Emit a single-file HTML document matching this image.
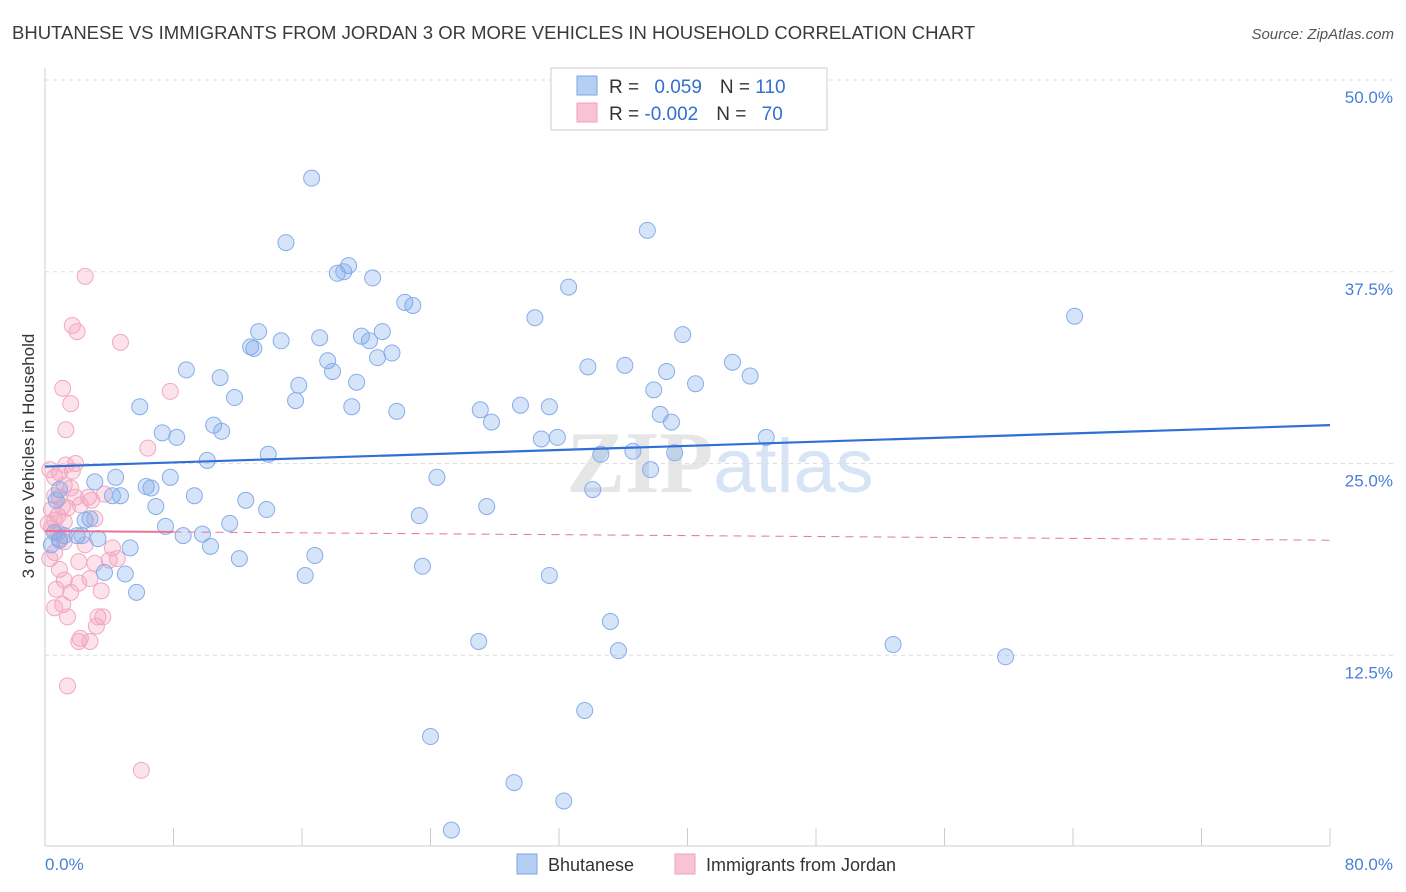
<!DOCTYPE html>
<html><head><meta charset="utf-8">
<style>
body{margin:0;background:#fff;font-family:"Liberation Sans",sans-serif;}
#wrap{position:relative;width:1406px;height:892px;overflow:hidden;}
</style></head>
<body>
<div id="wrap">
<svg id="svg" width="1406" height="892" xmlns="http://www.w3.org/2000/svg">
<text x="12" y="39" font-size="18.5" fill="#3a3a3a">BHUTANESE VS IMMIGRANTS FROM JORDAN 3 OR MORE VEHICLES IN HOUSEHOLD CORRELATION CHART</text>
<text x="1394" y="39" font-size="15" fill="#555" font-style="italic" text-anchor="end">Source: ZipAtlas.com</text>
<text x="720" y="492" font-size="88" fill="#e6e6e6" text-anchor="middle" font-weight="bold" font-family="Liberation Serif,serif">ZIP<tspan fill="#d6e4f5" font-weight="normal" font-family="Liberation Sans,sans-serif" font-size="76">atlas</tspan></text>
<g id="grid"></g>
<g id="axes"></g>
<g id="pts"></g>
<g id="trend"></g>
<text x="34" y="456" font-size="17" fill="#333" text-anchor="middle" transform="rotate(-90 34 456)">3 or more Vehicles in Household</text>
<text x="45" y="870" font-size="17" fill="#4a7fd6">0.0%</text>
<text x="1393" y="870" font-size="17" fill="#4a7fd6" text-anchor="end">80.0%</text>
<g>
<rect x="551" y="68" width="276" height="62" fill="#fff" stroke="#ccc"/>
<rect x="577" y="76" width="20" height="19" fill="#b5cff3" stroke="#7aa5e6"/>
<rect x="577" y="103" width="20" height="19" fill="#f8c3d3" stroke="#f0a0bb"/>
<text x="609" y="93" font-size="19" fill="#333">R = <tspan fill="#3070d0" dx="10">0.059</tspan><tspan fill="#333" dx="18">N = </tspan><tspan fill="#3070d0">110</tspan></text>
<text x="609" y="120" font-size="19" fill="#333">R = <tspan fill="#3070d0">-0.002</tspan><tspan fill="#333" dx="18">N = </tspan><tspan fill="#3070d0" dx="10">70</tspan></text>
</g>
<g>
<rect x="517" y="854" width="20" height="20" fill="#b5cff3" stroke="#7aa5e6"/>
<text x="548" y="871" font-size="18" fill="#333">Bhutanese</text>
<rect x="675" y="854" width="20" height="20" fill="#f8c3d3" stroke="#f0a0bb"/>
<text x="706" y="871" font-size="18" fill="#333">Immigrants from Jordan</text>
</g>
</svg>
</div>
<script>
const yTicks=[12.5,25,37.5,50];
const yTickLabels=["12.5%","25.0%","37.5%","50.0%"];
const xTicks=[0,8,16,24,32,40,48,56,64,72,80];
const blueX=[16.6,15.0,37.5,18.9,18.2,18.6,20.4,32.6,22.4,22.9,30.5,64.1,13.3,17.1,19.7,21.0,39.7,12.8,14.7,13.0,20.2,21.6,20.7,17.6,8.8,17.9,33.8,36.1,38.7,42.8,43.9,10.9,19.4,15.8,37.9,40.5,11.8,15.6,5.9,19.1,21.9,27.1,29.6,31.4,38.3,10.5,27.8,39.0,11.0,7.3,8.2,30.9,31.9,44.9,13.9,34.6,36.6,39.2,10.1,37.7,24.4,4.4,3.1,7.8,6.3,6.6,4.2,4.7,9.3,12.5,13.8,34.1,27.5,23.3,6.9,2.8,7.5,11.5,0.6,2.0,2.3,3.3,8.6,9.8,5.3,10.3,12.1,16.8,23.5,3.7,5.0,16.2,31.4,5.7,35.2,27.0,35.7,52.8,59.8,33.6,24.0,29.2,32.3,25.3,0.9,0.7,0.9,0.4,1.2,2.5];
const blueY=[43.6,39.4,40.2,37.9,37.4,37.5,37.1,36.5,35.5,35.3,34.5,34.6,33.6,33.2,33.3,33.6,33.4,32.6,33.0,32.5,33.0,32.2,31.9,31.7,31.1,31.0,31.3,31.4,31.0,31.6,30.7,30.6,30.3,30.1,29.8,30.2,29.3,29.1,28.7,28.7,28.4,28.5,28.8,28.7,28.2,27.5,27.7,27.7,27.1,27.0,26.7,26.6,26.7,26.7,25.6,25.6,25.8,25.7,25.2,24.6,24.1,24.1,23.8,24.1,23.5,23.4,22.9,22.9,22.9,22.6,22.0,23.3,22.2,21.6,22.2,21.4,20.9,21.1,20.5,20.3,20.3,20.1,20.3,20.4,19.5,19.6,18.8,19.0,18.3,17.9,17.8,17.7,17.7,16.6,14.7,13.4,12.8,13.2,12.4,8.9,7.2,4.2,3.0,1.1,23.3,22.6,20.0,19.7,20.3,21.3];
const pinkX=[2.5,1.7,2.0,4.7,1.1,7.8,1.6,1.3,6.4,1.9,0.9,1.7,0.6,1.2,1.6,0.6,0.9,1.9,2.7,2.9,3.7,1.1,0.4,1.4,0.6,1.2,3.1,0.2,0.4,0.8,0.9,1.2,4.2,0.6,0.3,4.0,2.1,3.1,4.5,0.9,1.2,2.8,2.1,0.7,1.6,3.5,1.1,0.6,1.4,3.3,3.6,3.2,2.2,2.1,2.8,1.4,6.0,0.3,1.3,2.2,0.8,2.5];
const pinkY=[37.2,34.0,33.6,32.9,29.9,29.7,28.9,27.2,26.0,25.0,24.4,24.5,24.1,23.6,23.4,22.9,22.8,22.8,22.8,22.6,23.0,22.2,22.0,22.1,21.3,21.2,21.4,21.1,20.8,20.5,20.1,19.9,19.5,19.2,18.8,18.7,18.6,18.5,18.8,18.1,17.4,17.5,17.2,16.8,16.6,16.7,15.8,15.6,15.0,15.0,15.0,14.4,13.6,13.4,13.4,10.5,5.0,24.6,24.9,22.3,21.6,19.7];
const blueTrend=[24.8,27.5];
const pinkTrend=[20.6,20.0];
const X0=45,X1=1330,Y0=847,Y50=80;
const sx=v=>X0+(X1-X0)*v/80;
const sy=v=>Y0-(Y0-Y50)*v/50;
const NS="http://www.w3.org/2000/svg";
function mk(tag,attrs,parent){const e=document.createElementNS(NS,tag);for(const k in attrs)e.setAttribute(k,attrs[k]);document.getElementById(parent).appendChild(e);return e;}
yTicks.forEach((t,i)=>{
 const l=mk('line',{x1:X0,x2:1393,y1:sy(t),y2:sy(t),stroke:'#ddd','stroke-dasharray':'4,4'},'grid');
 
 
 const tx=mk('text',{x:1393,y:sy(t)+23,'font-size':17,fill:'#4a7fd6','text-anchor':'end'},'grid');
 tx.textContent=yTickLabels[i];
 
 
});
const ax=mk('line',{x1:X0,x2:X0,y1:68,y2:846,stroke:'#ccc'},'axes');


const bx=mk('line',{x1:X0,x2:X1,y1:846,y2:846,stroke:'#ccc'},'axes');


xTicks.forEach(t=>{
 const l=mk('line',{x1:sx(t),x2:sx(t),y1:828,y2:846,stroke:'#ccc'},'axes');
 
 
});
pinkX.forEach((x,i)=>{
 const c=mk('circle',{cx:sx(x),cy:sy(pinkY[i]),r:8,fill:'rgba(244,160,190,0.3)',stroke:'#f2a8c0','stroke-width':1},'pts');
 
 
});
blueX.forEach((x,i)=>{
 const c=mk('circle',{cx:sx(x),cy:sy(blueY[i]),r:8,fill:'rgba(120,165,235,0.3)',stroke:'#86adea','stroke-width':1},'pts');
 
 
});
const bt=mk('line',{x1:sx(0),y1:sy(blueTrend[0]),x2:sx(80),y2:sy(blueTrend[1]),stroke:'#2f6fd6','stroke-width':2.2},'trend');


const pm=pinkTrend[0]+(pinkTrend[1]-pinkTrend[0])*8/80;
const pt1=mk('line',{x1:sx(0),y1:sy(pinkTrend[0]),x2:sx(8),y2:sy(pm),stroke:'#e87298','stroke-width':2},'trend');


const pt2=mk('line',{x1:sx(8),y1:sy(pm),x2:sx(80),y2:sy(pinkTrend[1]),stroke:'#e87298','stroke-width':1,'stroke-dasharray':'8,6'},'trend');


</script>
</body></html>
